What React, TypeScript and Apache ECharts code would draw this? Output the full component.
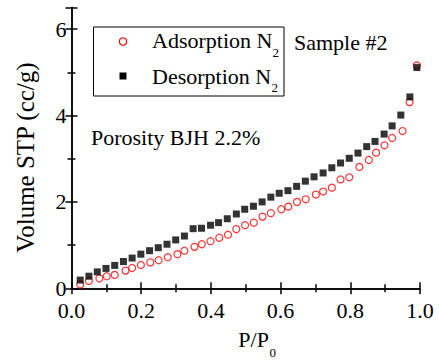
import React, { useEffect, useRef } from "react";
import * as echarts from "echarts";

const adsorptionP = [0.025, 0.05, 0.08, 0.101, 0.124, 0.155, 0.174, 0.199, 0.226, 0.25, 0.276, 0.304, 0.324, 0.353, 0.374, 0.399, 0.424, 0.449, 0.473, 0.498, 0.523, 0.548, 0.572, 0.602, 0.622, 0.647, 0.672, 0.701, 0.722, 0.747, 0.772, 0.797, 0.826, 0.853, 0.874, 0.898, 0.92, 0.95, 0.97, 0.991];
const adsorptionV = [0.09, 0.17, 0.23, 0.28, 0.31, 0.41, 0.47, 0.54, 0.6, 0.65, 0.72, 0.79, 0.87, 0.96, 1.02, 1.09, 1.17, 1.24, 1.37, 1.46, 1.52, 1.66, 1.74, 1.83, 1.89, 2.0, 2.06, 2.17, 2.24, 2.33, 2.52, 2.57, 2.81, 2.97, 3.14, 3.31, 3.48, 3.64, 4.31, 5.16];
const desorptionP = [0.025, 0.05, 0.074, 0.099, 0.124, 0.149, 0.174, 0.199, 0.224, 0.249, 0.274, 0.299, 0.324, 0.349, 0.373, 0.399, 0.422, 0.447, 0.473, 0.497, 0.522, 0.547, 0.572, 0.596, 0.621, 0.646, 0.671, 0.696, 0.722, 0.747, 0.772, 0.797, 0.822, 0.847, 0.871, 0.897, 0.92, 0.945, 0.971, 0.991];
const desorptionV = [0.19, 0.28, 0.38, 0.46, 0.53, 0.62, 0.7, 0.79, 0.87, 0.94, 1.02, 1.12, 1.21, 1.38, 1.39, 1.46, 1.52, 1.61, 1.72, 1.83, 1.9, 2.0, 2.11, 2.2, 2.26, 2.36, 2.48, 2.58, 2.67, 2.79, 2.9, 3.01, 3.13, 3.28, 3.4, 3.57, 3.76, 4.01, 4.43, 5.11];

const seriesNames = ["Adsorption N2", "Desorption N2"];
const xRange = [0, 1];
const yRange = [0, 6.5];
const xStep = 0.2;
const yStep = 2;
const yTitle = "Volume STP (cc/g)";
const sampleLabel = "Sample #2";
const porosityLabel = "Porosity BJH 2.2%";

const FONT = "Liberation Serif";

export default function App() {
  const ref = useRef<HTMLDivElement>(null);
  useEffect(() => {
    if (!ref.current) return;
    const chart = echarts.init(ref.current, null, { renderer: "svg" });
    const axisLine = { show: true, lineStyle: { color: "#000", width: 1.5 } };
    const tick = { show: true, inside: true, length: 6, lineStyle: { color: "#000", width: 1.5 } };
    const minor = { show: true, splitNumber: 2, length: 4, lineStyle: { color: "#000", width: 1.5 } };
    const labelStyle = { fontFamily: FONT, fontSize: 22, color: "#000" };
    const text = (t: string, x: number, y: number, size = 22, extra: any = {}) => ({
      type: "text",
      x,
      y,
      z: 100,
      ...extra,
      style: {
        text: t,
        fontFamily: FONT,
        fontSize: size,
        fill: "#000",
        verticalAlign: "middle",
        align: "left",
        ...(extra.style || {}),
      },
    });
    const option: any = {
      animation: false,
      backgroundColor: "#fff",
      textStyle: { fontFamily: FONT },
      grid: { left: 71.5, right: 19, top: 7.5, bottom: 71.7 },
      xAxis: [
        {
          type: "value",
          min: xRange[0],
          max: xRange[1],
          interval: xStep,
          position: "bottom",
          axisLine,
          axisTick: tick,
          minorTick: minor,
          splitLine: { show: false },
          axisLabel: { ...labelStyle, margin: 11, formatter: (v: number) => v.toFixed(1) },
        },
        {
          type: "value",
          min: xRange[0],
          max: xRange[1],
          interval: xStep,
          position: "top",
          axisLine,
          axisTick: tick,
          minorTick: minor,
          splitLine: { show: false },
          axisLabel: { show: false },
        },
      ],
      yAxis: [
        {
          type: "value",
          min: yRange[0],
          max: yRange[1],
          interval: yStep,
          position: "left",
          axisLine,
          axisTick: tick,
          minorTick: minor,
          splitLine: { show: false },
          axisLabel: {
            ...labelStyle,
            margin: 5,
            formatter: (v: number) => (Math.abs(v % yStep) < 1e-9 ? String(v) : ""),
          },
        },
        {
          type: "value",
          min: yRange[0],
          max: yRange[1],
          interval: yStep,
          position: "right",
          axisLine,
          axisTick: tick,
          minorTick: minor,
          splitLine: { show: false },
          axisLabel: { show: false },
        },
      ],
      series: [
        {
          name: seriesNames[0],
          type: "scatter",
          xAxisIndex: 0,
          yAxisIndex: 0,
          symbol: "circle",
          symbolSize: 7,
          itemStyle: { color: "rgba(255,255,255,0)", borderColor: "#ff0000", borderWidth: 1.2 },
          data: adsorptionP.map((p, i) => [p, adsorptionV[i]]),
          z: 2,
        },
        {
          name: seriesNames[1],
          type: "scatter",
          xAxisIndex: 0,
          yAxisIndex: 0,
          symbol: "rect",
          symbolSize: 7,
          itemStyle: { color: "#000" },
          data: desorptionP.map((p, i) => [p, desorptionV[i]]),
          z: 3,
        },
      ],
      graphic: [
        {
          type: "rect",
          z: 100,
          shape: { x: 93.5, y: 27, width: 190.5, height: 69 },
          style: { fill: "#fff", stroke: "#000", lineWidth: 1 },
        },
        {
          type: "circle",
          z: 101,
          shape: { cx: 123, cy: 41.5, r: 3.7 },
          style: { fill: "none", stroke: "#ff0000", lineWidth: 1.2 },
        },
        {
          type: "rect",
          z: 101,
          shape: { x: 119.5, y: 72.5, width: 7, height: 7 },
          style: { fill: "#000" },
        },
        text("Adsorption N", 152, 40.5, 22, { z: 101 }),
        text("2", 272.5, 52.5, 13, { z: 101 }),
        text("Desorption N", 152, 76.3, 22, { z: 101 }),
        text("2", 271.5, 87, 13, { z: 101 }),
        text(sampleLabel, 294, 42),
        text(porosityLabel, 91, 137),
        text("P/P", 238.3, 339),
        text("0", 269.5, 352.5, 13),
        text(yTitle, 25, 157.5, 25, { rotation: Math.PI / 2, style: { align: "center" } }),
      ],
    };
    chart.setOption(option);
    return () => chart.dispose();
  }, []);
  return (
    <div
      ref={ref}
      style={{ position: "absolute", left: 0, top: 0, width: 439, height: 360 }}
    />
  );
}
